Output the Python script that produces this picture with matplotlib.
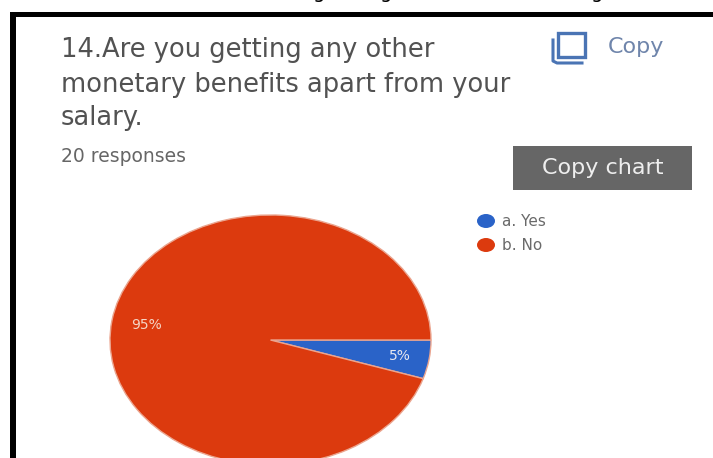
import numpy as np
from matplotlib import pyplot as plt
from matplotlib.patches import Rectangle, Ellipse

W, H = 713, 458

question = ["14.Are you getting any other", "monetary benefits apart from your", "salary."]
responses = "20 responses"
categories = ["a. Yes", "b. No"]
values = [5, 95]
colors = ["#2a63c8", "#dc3a0e"]

plt.rcParams['font.family'] = ['DejaVu Sans']

fig = plt.figure(figsize=(W / 100, H / 100), dpi=100, facecolor="white")

# Pie is stretched wider than tall, and runs off the bottom of the figure
pie_ax = fig.add_axes([110 / W, 1 - 465 / H, 321 / W, 250 / H])
pie_ax.pie(values, colors=colors, startangle=0, counterclock=False, radius=1,
           wedgeprops={"edgecolor": "#eba58f", "linewidth": 1.0})
pie_ax.set_aspect("auto")
pie_ax.set_xlim(-1, 1)
pie_ax.set_ylim(-1, 1)

# Overlay in pixel coordinates for the card, text and icon
ax = fig.add_axes([0, 0, 1, 1], facecolor="none")
ax.set_xlim(0, W)
ax.set_ylim(H, 0)
ax.axis("off")

# Black card border, open on the right and at the bottom
ax.add_patch(Rectangle((9.5, 12), 6, H, color="black", lw=0))
ax.add_patch(Rectangle((9.5, 12), W, 4.5, color="black", lw=0))

# Tails of the cropped heading above the card
for x in [319, 386, 597]:
    ax.text(x, -8, "g", fontsize=14, color="black", ha="center", va="center")

for y, line in zip([50, 85, 118], question):
    ax.text(61, y, line, fontsize=18.5, color="#525252", va="center", ha="left")
ax.text(61, 156, responses, fontsize=13.5, color="#666666", va="center", ha="left")

# Copy icon and link
ax.add_patch(Rectangle((558, 33), 27, 24, fill=False, ec="#4a74b4", lw=2.4))
ax.plot([553, 553, 557, 582], [40, 61, 63, 63], color="#4a74b4", lw=2.2)
ax.text(608, 47, "Copy", fontsize=16, color="#6f85ab", va="center", ha="left")

# Copy chart button
ax.add_patch(Rectangle((513, 146), 179, 44, color="#666666", lw=0))
ax.text(603, 168, "Copy chart", fontsize=16, color="#eeeeee", va="center", ha="center")

# Legend
for y, label, c in zip([221, 245], categories, colors):
    ax.add_patch(Ellipse((486, y), 18, 14, color=c, lw=0))
    ax.text(502, y, label, fontsize=11, color="#6a6a6a", va="center", ha="left")

# Slice labels
ax.text(400, 356, f"{values[0]}%", fontsize=10, color="#e8e8f0", va="center", ha="center")
ax.text(146, 325, f"{values[1]}%", fontsize=10, color="#f5d5c5", va="center", ha="center")

fig.savefig("out.png", dpi=100)
